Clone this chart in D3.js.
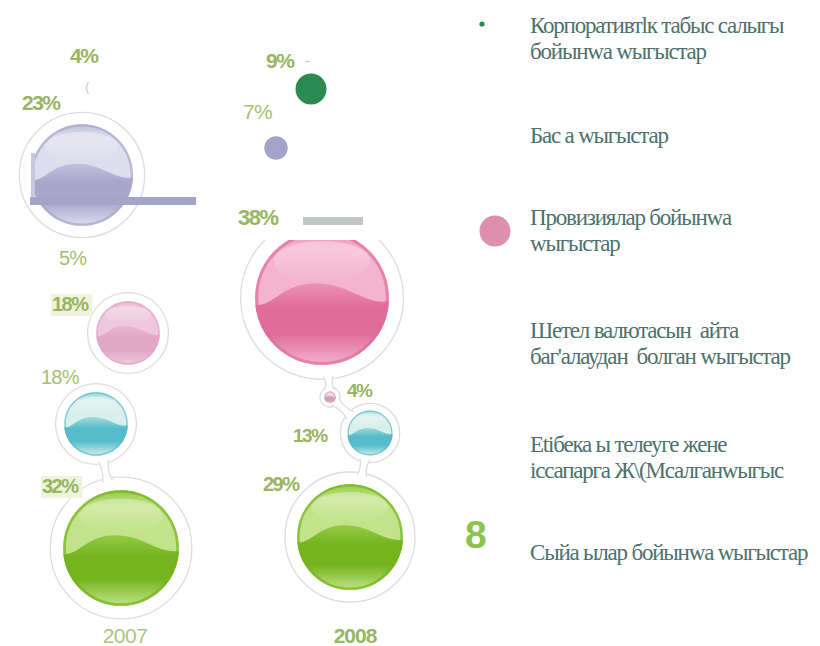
<!DOCTYPE html>
<html>
<head>
<meta charset="utf-8">
<script src="https://cdn.jsdelivr.net/npm/d3@7"></script>
<style>
  body { margin: 0; background: #fff; }
  svg { display: block; }
  .pct { font-family: "Liberation Sans", Arial, sans-serif; }
  .legend-text { font-family: "Liberation Serif", "Times New Roman", serif; font-size: 23px; fill: #4e716c; letter-spacing: -1.2px; white-space: pre; }
</style>
</head>
<body>
<div id="chart"></div>
<script>
// ---- data ----
var years = ['2007', '2008'];
var categories = [
  ['Корпоративтlк табыс салыгы', 'бойынwa wыгыстар'],
  ['Бас а wыгыстар'],
  ['Провизиялар бойынwa', 'wыгыстар'],
  ['Шетел валютасын  айта', "баг'алаудан  болган wыгыстар"],
  ['Etібека ы телеуге жене', 'іссапарга Ж\\(Мсалганwыгыс'],
  ['Сыйа ылар бойынwа wыгыстар']
];
var values2007 = [4, 23, 18, 5, 18, 32];
var values2008 = [9, 7, 38, 4, 13, 29];

// ---- layout (offsets from the year column centre) ----
// kind: gloss = glass bubble, flat = plain dot, none = label only
var layout2007 = [
  { kind: 'none',  dx: 0,   cy: 0,   lx: -55, ly: 63,  bold: true,  size: 21 },
  { kind: 'gloss', dx: -43, cy: 175, lx: -103, ly: 110, bold: true,  size: 21 },
  { kind: 'gloss', dx: 3,   cy: 333, lx: -73, ly: 311, bold: true,  size: 20, bg: true, pale: true },
  { kind: 'none',  dx: 0,   cy: 0,   lx: -66, ly: 265, bold: false, size: 20 },
  { kind: 'gloss', dx: -29, cy: 424, lx: -84, ly: 384, bold: false, size: 20 },
  { kind: 'gloss', dx: -4,  cy: 548, lx: -83, ly: 493, bold: true,  size: 20, bg: true }
];
var layout2008 = [
  { kind: 'flat',  dx: -44, cy: 89,  lx: -89, ly: 68,  bold: true,  size: 21 },
  { kind: 'flat',  dx: -79, cy: 148, lx: -112, ly: 119, bold: false, size: 21 },
  { kind: 'gloss', dx: -33, cy: 298, lx: -117, ly: 225, bold: true,  size: 22, clipTop: 240 },
  { kind: 'gloss', dx: -25, cy: 397, lx: -8,  ly: 397, bold: true,  size: 19 },
  { kind: 'gloss', dx: 15,  cy: 433, lx: -62, ly: 442, bold: true,  size: 19 },
  { kind: 'gloss', dx: -5,  cy: 537, lx: -92, ly: 491, bold: true,  size: 20 }
];
// bubbles joined by a neck, by category index
var links2007 = [[4, 5]];
var links2008 = [[2, 3], [3, 4], [4, 5]];

var legendY = [33, 143, 225, 338, 452, 560];

var palettes = [
  { flat: '#2a8b50' },
  { light: '#dedded', mid: '#c1c0dc', dark: '#a8a7cb', flat: '#a5a4c8' },
  { light: '#f4b4cf', mid: '#ec92b7', dark: '#df6c9b', flat: '#de8fae' },
  { light: '#eed6e3', mid: '#dcb6ca', dark: '#cfa0b9' },
  { light: '#d9efeb', mid: '#a2dadb', dark: '#55bccb' },
  { light: '#c2e389', mid: '#94ca44', dark: '#74b41e' }
];

var W = 820, H = 646;
var svg = d3.select('#chart').append('svg').attr('width', W).attr('height', H);
var defs = svg.append('defs');

var xYear = d3.scaleBand().domain(years).range([10, 470]);
var rScale = d3.scaleLinear().domain([4, 9, 18, 23, 29, 32, 38]).range([6, 15.5, 32, 51, 53, 58, 67]);
function ringR(r) { return r * 1.17 + 3; }

function paleOf(pal) {
  var p = {};
  Object.keys(pal).forEach(function(k) {
    p[k] = d3.interpolateRgb(d3.interpolateRgb(pal[k], '#c8a8d0')(0.35), '#ffffff')(0.3);
  });
  return p;
}

function gradient(id, stops) {
  var g = defs.append('linearGradient').attr('id', id)
    .attr('x1', 0).attr('y1', 0).attr('x2', 0).attr('y2', 1);
  stops.forEach(function(s) {
    g.append('stop').attr('offset', s[0]).attr('stop-color', s[1]).attr('stop-opacity', s[2] == null ? 1 : s[2]);
  });
}

function glossBall(g, cx, cy, r, pal, id) {
  defs.append('clipPath').attr('id', 'ball-' + id)
    .append('circle').attr('cx', cx).attr('cy', cy).attr('r', r);
  gradient('base-' + id, [[0, pal.mid], [0.14, pal.light], [0.5, pal.light], [1, pal.mid]]);
  gradient('liq-' + id, [[0, pal.mid], [0.3, pal.dark], [0.62, pal.dark], [1, pal.light]]);
  gradient('hi-' + id, [[0, '#ffffff', 0.35], [1, '#ffffff', 0]]);

  var b = g.append('g').attr('clip-path', 'url(#ball-' + id + ')');
  b.append('circle').attr('cx', cx).attr('cy', cy).attr('r', r).attr('fill', 'url(#base-' + id + ')');
  var p = d3.path();
  p.moveTo(cx - r, cy + 0.1 * r);
  p.bezierCurveTo(cx - 0.75 * r, cy + 0.15 * r, cx - 0.6 * r, cy - 0.22 * r, cx - 0.1 * r, cy - 0.22 * r);
  p.bezierCurveTo(cx + 0.4 * r, cy - 0.22 * r, cx + 0.62 * r, cy + 0.1 * r, cx + r, cy + 0.05 * r);
  p.lineTo(cx + r, cy + r);
  p.lineTo(cx - r, cy + r);
  p.closePath();
  b.append('path').attr('d', p.toString()).attr('fill', 'url(#liq-' + id + ')');
  b.append('ellipse').attr('cx', cx).attr('cy', cy - 0.55 * r)
    .attr('rx', 0.72 * r).attr('ry', 0.3 * r).attr('fill', 'url(#hi-' + id + ')');
  g.append('circle').attr('cx', cx).attr('cy', cy).attr('r', r - Math.max(1, r * 0.025))
    .attr('fill', 'none').attr('stroke', pal.dark).attr('stroke-opacity', 0.7)
    .attr('stroke-width', Math.max(1.2, r * 0.045));
}

function drawYear(year, values, layout, links) {
  var cx0 = xYear(year) + xYear.bandwidth() / 2;
  var g = svg.append('g').attr('class', 'year-' + year);
  var nodes = values.map(function(v, i) {
    var l = layout[i];
    return { i: i, v: v, l: l, cx: cx0 + l.dx, cy: l.cy, r: rScale(v) };
  });

  // outer glass rings
  var rings = g.append('g').attr('class', 'rings');
  nodes.filter(function(d) { return d.l.kind === 'gloss'; }).forEach(function(d) {
    var gg = rings.append('g');
    if (d.l.clipTop) {
      defs.append('clipPath').attr('id', 'top-' + year + '-' + d.i)
        .append('rect').attr('x', 0).attr('y', d.l.clipTop).attr('width', W).attr('height', H);
      gg.attr('clip-path', 'url(#top-' + year + '-' + d.i + ')');
    }
    gg.append('circle').attr('cx', d.cx).attr('cy', d.cy).attr('r', ringR(d.r))
      .attr('fill', '#fff').attr('stroke', '#d9dfde').attr('stroke-width', 1.3);
    d.g = gg;
  });

  // necks between joined bubbles
  links.forEach(function(pair) {
    var a = nodes[pair[0]], b = nodes[pair[1]];
    var dx = b.cx - a.cx, dy = b.cy - a.cy, len = Math.sqrt(dx * dx + dy * dy);
    var ux = dx / len, uy = dy / len, px = -uy, py = ux, w = 5;
    var ra = ringR(a.r) - 3, rb = ringR(b.r) - 3;
    var ax = a.cx + ux * ra, ay = a.cy + uy * ra, bx = b.cx - ux * rb, by = b.cy - uy * rb;
    var mx = (ax + bx) / 2, my = (ay + by) / 2;
    rings.append('path')
      .attr('d', 'M' + (ax + px * w) + ',' + (ay + py * w) + 'L' + (bx + px * w) + ',' + (by + py * w) +
        'L' + (bx - px * w) + ',' + (by - py * w) + 'L' + (ax - px * w) + ',' + (ay - py * w) + 'Z')
      .attr('fill', '#fff');
    [1, -1].forEach(function(s) {
      rings.append('path')
        .attr('d', 'M' + (ax + s * px * w) + ',' + (ay + s * py * w) +
          'Q' + (mx + s * px * 1.5) + ',' + (my + s * py * 1.5) + ' ' + (bx + s * px * w) + ',' + (by + s * py * w))
        .attr('fill', 'none').attr('stroke', '#d9dfde').attr('stroke-width', 1.3);
    });
  });

  // balls
  nodes.forEach(function(d) {
    var pal = palettes[d.i];
    if (d.l.kind === 'flat') {
      g.append('circle').attr('cx', d.cx).attr('cy', d.cy).attr('r', d.r).attr('fill', pal.flat);
    } else if (d.l.kind === 'gloss') {
      glossBall(d.g, d.cx, d.cy, d.r, d.l.pale ? paleOf(pal) : pal, year + '-' + d.i);
    }
  });

  // percentage labels
  nodes.forEach(function(d) {
    var t = g.append('text').attr('class', 'pct')
      .attr('x', cx0 + d.l.lx).attr('y', d.l.ly)
      .attr('font-size', d.l.size)
      .attr('font-weight', d.l.bold ? 'bold' : 'normal')
      .attr('letter-spacing', d.l.bold ? -1.5 : -0.8)
      .attr('fill', d.l.bold ? '#97b563' : '#a3c273')
      .text(d.v + '%');
    if (d.l.bg) {
      var bb = t.node().getBBox();
      g.insert('rect', 'text').attr('x', bb.x - 1).attr('y', bb.y + 1)
        .attr('width', bb.width + 4).attr('height', bb.height)
        .attr('fill', '#eef3dc');
    }
  });

  // year label
  g.append('text').attr('class', 'pct')
    .attr('x', cx0).attr('y', 643).attr('text-anchor', 'middle')
    .attr('font-size', 21)
    .attr('font-weight', year === '2008' ? 'bold' : 'normal')
    .attr('letter-spacing', year === '2008' ? -1 : -0.5)
    .attr('fill', year === '2008' ? '#97b563' : '#aac683')
    .text(year);
}

drawYear('2007', values2007, layout2007, links2007);
drawYear('2008', values2008, layout2008, links2008);

// leader bars and stray marks from the original
svg.append('rect').attr('x', 31).attr('y', 153).attr('width', 4).attr('height', 44).attr('fill', '#c9c8df');
svg.append('rect').attr('x', 30).attr('y', 197).attr('width', 166).attr('height', 8).attr('fill', '#a6a5c9');
svg.append('rect').attr('x', 303).attr('y', 217).attr('width', 60).attr('height', 8).attr('fill', '#c2c6c5');
svg.append('text').attr('x', 85).attr('y', 91).attr('font-family', 'Liberation Sans, sans-serif')
  .attr('font-size', 13).attr('fill', '#c6cbca').text('(');
svg.append('text').attr('x', 305).attr('y', 66).attr('font-family', 'Liberation Sans, sans-serif')
  .attr('font-size', 15).attr('fill', '#bcc0c0').text('-');

// ---- legend ----
var legend = svg.append('g').attr('class', 'legend');
categories.forEach(function(lines, i) {
  var t = legend.append('text').attr('class', 'legend-text').attr('x', 530).attr('y', legendY[i]);
  lines.forEach(function(s, j) {
    t.append('tspan').attr('x', 530).attr('dy', j === 0 ? 0 : 26).text(s);
  });
});
legend.append('circle').attr('cx', 482).attr('cy', 24).attr('r', 2.6).attr('fill', palettes[0].flat);
legend.append('circle').attr('cx', 495).attr('cy', 231).attr('r', 15.5).attr('fill', palettes[2].flat);
legend.append('text').attr('class', 'pct').attr('x', 465).attr('y', 548)
  .attr('font-size', 39).attr('font-weight', 'bold').attr('fill', '#8cc34a').text('8');
</script>
</body>
</html>
